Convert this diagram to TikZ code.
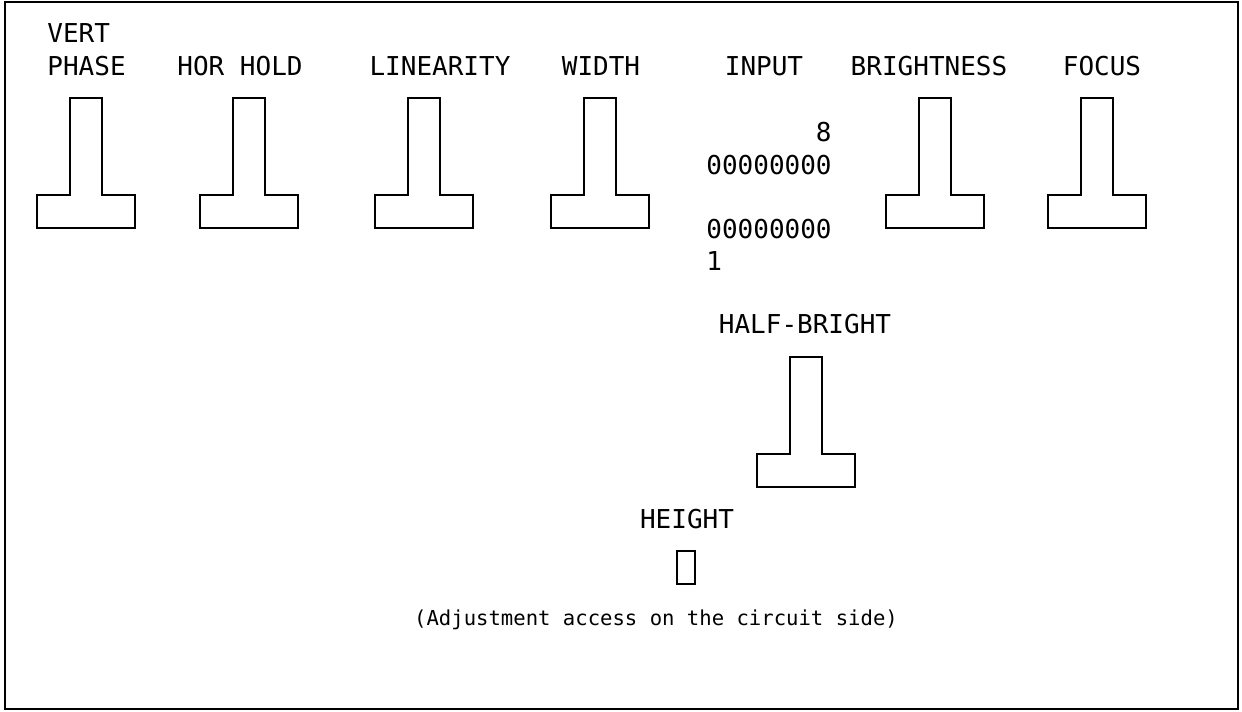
\documentclass[tikz,border=0pt]{standalone}
\usepackage{fontspec}
\setmonofont{DejaVu Sans Mono}
\usetikzlibrary{positioning}

\begin{document}
\begin{tikzpicture}[x=0.5pt,y=-0.5pt,
  lbl/.style={font=\ttfamily\fontsize{13}{16.5}\selectfont, inner sep=0pt},
  note/.style={font=\ttfamily\fontsize{10.3}{12}\selectfont, inner sep=0pt},
  knob/.style={line width=0.9pt, line join=miter}]
  \useasboundingbox (0,0) rectangle (1242,712);
  \draw[line width=0.9pt] (5,2) rectangle (1238,709);
  % potentiometer knobs (stem centre, top)
  \foreach \cx/\cy in {86/98, 249/98, 424/98, 600/98, 935/98, 1097/98, 806/357}
    \draw[knob] (\cx-16,\cy) -- ++(32,0) -- ++(0,97) -- ++(33,0) -- ++(0,33)
      -- ++(-98,0) -- ++(0,-33) -- ++(33,0) -- cycle;
  % labels
  \node[lbl, anchor=base west, align=left] (vphase) at (47,75) {VERT\\PHASE};
  \node[lbl, anchor=base] (hhold) at (240,75) {HOR HOLD};
  \node[lbl, anchor=base] (linear) at (440,75) {LINEARITY};
  \node[lbl, anchor=base] (width) at (601,75) {WIDTH};
  \node[lbl, anchor=base] (input) at (764,75) {INPUT};
  \node[lbl, anchor=base] (bright) at (929,75) {BRIGHTNESS};
  \node[lbl, anchor=base] (focus) at (1102,75) {FOCUS};
  % input connector pins
  \node[lbl, anchor=base west] (rowA) at (706,174) {00000000};
  \node[lbl, anchor=base west] (rowB) at (706,238) {00000000};
  \node[lbl, anchor=base east] (pin8) at ([yshift=16.5pt]rowA.base east) {8};
  \node[lbl, anchor=base west] (pin1) at ([yshift=-16pt]rowB.base west) {1};
  \node[lbl, anchor=base] (hbright) at (805,333) {HALF-BRIGHT};
  \node[lbl, anchor=base] (height) at (687,528) {HEIGHT};
  \draw[knob] (677,551) rectangle (695,584);
  \node[note, anchor=base] (access) at (656,625) {(Adjustment access on the circuit side)};
\end{tikzpicture}
\end{document}
